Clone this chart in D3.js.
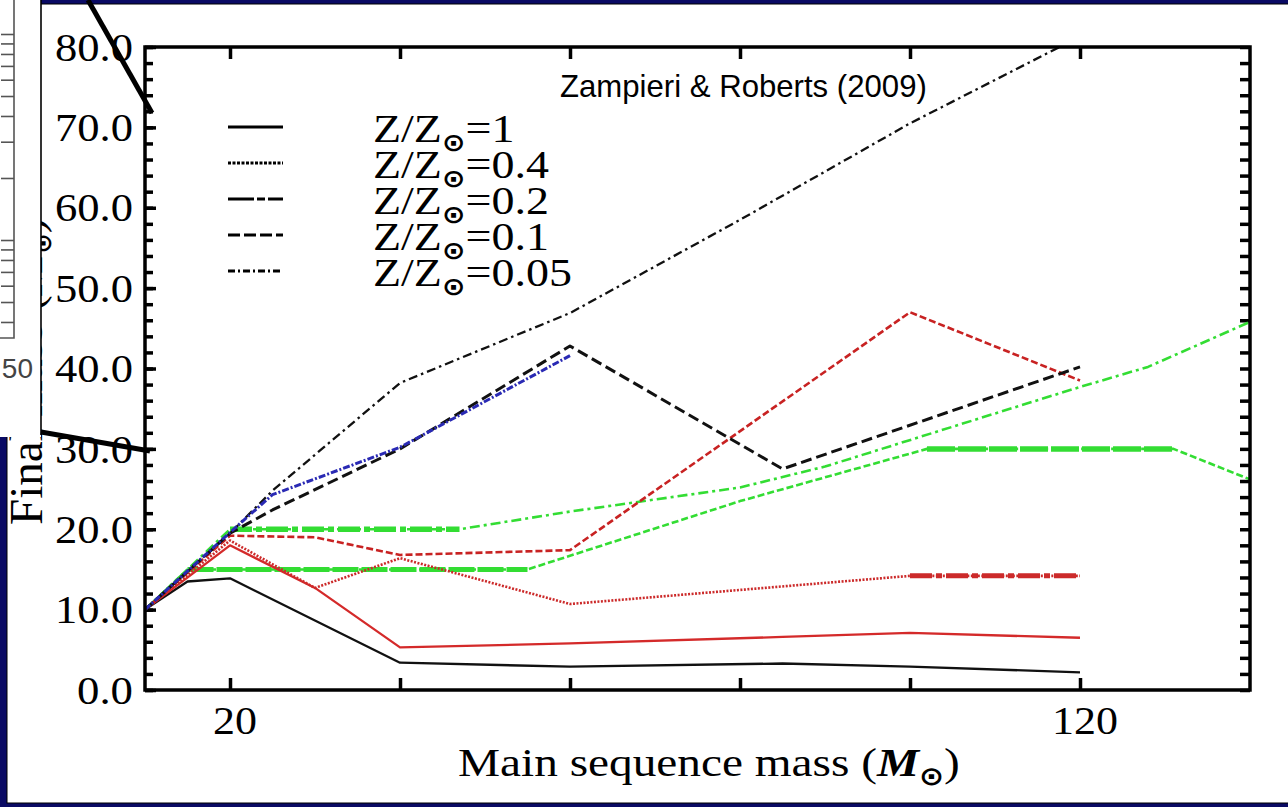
<!DOCTYPE html>
<meta charset="utf-8">
<style>
body { margin: 0; background: #0a0a64; }
</style>
<svg width="1288" height="807"></svg>
<script src="https://d3js.org/d3.v7.min.js"></script>
<script>

// ---- data (mass in Msun, final mass in Msun) ----
var massBlackSolid = [10, 15, 20, 40, 60, 85, 100, 120],
    finalBlackSolid = [10, 13.5, 13.9, 3.4, 2.9, 3.3, 2.9, 2.2];
var massBlackDash = [10, 20, 25, 40, 60, 85, 120],
    finalBlackDash = [10, 19.5, 22.4, 30.0, 42.8, 27.5, 40.2];
var massBlackDashDot = [10, 20, 25, 40, 60, 80, 100, 120],
    finalBlackDashDot = [10, 19.5, 24.8, 38.2, 46.9, 58.5, 70.5, 81.3];
var massBlue = [10, 20, 25, 40, 60],
    finalBlue = [10, 19.6, 24.3, 30.2, 41.6];
var massRedSolid = [10, 20, 30, 40, 60, 85, 100, 120],
    finalRedSolid = [10, 18.0, 12.7, 5.3, 5.8, 6.6, 7.1, 6.5];
var massRedDot = [10, 20, 30, 40, 60, 100, 120],
    finalRedDot = [10, 18.6, 12.7, 16.4, 10.7, 14.2, 14.2];
var massRedDash = [10, 20, 30, 40, 60, 100, 120],
    finalRedDash = [10, 19.2, 19.0, 16.8, 17.4, 47.0, 38.5];
var massGreenDash = [10, 15, 55, 80, 102, 131, 140],
    finalGreenDash = [10, 15, 15, 23.5, 30, 30, 26.2];
var massGreenDashDot = [10, 20, 47, 60, 80, 90, 120, 128, 140],
    finalGreenDashDot = [10, 20, 20, 22.2, 25.2, 27.8, 37.7, 40.2, 45.8];

var yMajor = d3.range(0, 81, 10),
    yMinor = d3.range(0, 81, 2),
    xTicks = d3.range(20, 121, 20),
    xLabels = [20, 120];

var legendLabels = ["1", "0.4", "0.2", "0.1", "0.05"],
    legendDash = [null, "3,1.5", "26,3,8,3", "12,4", "7,3,2,3"];

var insetTicks = [4, 5, 6, 7, 8, 9, 10, 20, 30, 40, 50, 60, 70, 80, 90, 100];

var svg = d3.select("svg");
var serif = "Liberation Serif, Times New Roman, serif";

// stretch a text horizontally to a width, keeping its left edge
function fitWidth(sel, w) {
  sel.each(function() {
    var b = this.getBBox();
    var s = w / b.width;
    d3.select(this).attr("transform",
      "translate(" + b.x + ",0) scale(" + s + ",1) translate(" + (-b.x) + ",0)");
  });
}

function sunTspan(t, size, dy) {
  t.append("tspan").attr("font-family", "DejaVu Sans").attr("font-size", size)
   .attr("font-weight", "bold").attr("dy", dy).text("\u2299");
}

svg.append("rect")
   .attr("width", 1288).attr("height", 807)
   .attr("fill", "#0a0a64");
svg.append("rect")
   .attr("x", 7).attr("y", 4).attr("width", 1282).attr("height", 799)
   .attr("fill", "#fff").attr("stroke", "#000").attr("stroke-width", 1);

var x = d3.scaleLinear().domain([10, 140]).range([145, 1250]),
    y = d3.scaleLinear().domain([0, 80]).range([690, 47]);

function tickStyle(g) {
  g.select(".domain").remove();
  g.selectAll("text").remove();
  g.selectAll("line").attr("stroke", "#000").attr("stroke-width", 3.5);
}

svg.append("g").attr("transform", "translate(145,0)")
   .call(d3.axisLeft(y).tickValues(yMinor).tickSize(-8)).call(tickStyle);
svg.append("g").attr("transform", "translate(145,0)")
   .call(d3.axisLeft(y).tickValues(yMajor).tickSize(-11)).call(tickStyle);
svg.append("g").attr("transform", "translate(1250,0)")
   .call(d3.axisRight(y).tickValues(yMinor).tickSize(-10)).call(tickStyle);
svg.append("g").attr("transform", "translate(0,690)")
   .call(d3.axisBottom(x).tickValues(xTicks).tickSize(-12)).call(tickStyle);
svg.append("g").attr("transform", "translate(0,47)")
   .call(d3.axisTop(x).tickValues(xTicks).tickSize(-12)).call(tickStyle);

// data lines
svg.append("clipPath").attr("id", "plotclip")
   .append("rect").attr("x", 145).attr("y", 47).attr("width", 1105).attr("height", 643);

var plot = svg.append("g").attr("clip-path", "url(#plotclip)");
var line = d3.line().x(function(d) { return x(d[0]); }).y(function(d) { return y(d[1]); });

function drawSeries(ms, vs, color, width, dash, bold) {
  var pts = d3.zip(ms, vs);
  if (width > 0) {
    plot.append("path").attr("d", line(pts))
        .attr("fill", "none").attr("stroke", color)
        .attr("stroke-width", width)
        .attr("stroke-dasharray", dash)
        .attr("stroke-linejoin", "round");
  }
  if (bold) {
    var sub = pts.filter(function(p) { return p[0] >= bold[0] && p[0] <= bold[1]; });
    plot.append("path").attr("d", line(sub))
        .attr("fill", "none").attr("stroke", color)
        .attr("stroke-width", bold[2])
        .attr("stroke-dasharray", bold[3]);
  }
}

drawSeries(massGreenDash, finalGreenDash, "#33dd33", 2.6, "7,3", [15, 55, 5, "26,3"]);
drawSeries(massGreenDash, finalGreenDash, "#33dd33", 0, null, [102, 131, 5.5, "28,3"]);
drawSeries(massGreenDashDot, finalGreenDashDot, "#33dd33", 2.6, "10,4,3,4", [20, 47, 5.5, "22,4,6,4"]);
drawSeries(massBlackSolid, finalBlackSolid, "#111", 2.3, null);
drawSeries(massRedSolid, finalRedSolid, "#d42a2a", 2.3, null);
drawSeries(massRedDot, finalRedDot, "#cc2a2a", 2.6, "2,1.5", [100, 120, 5, "22,4,6,4"]);
drawSeries(massRedDash, finalRedDash, "#c82222", 2.6, "7,3");
drawSeries(massBlackDash, finalBlackDash, "#111", 3, "11,5");
drawSeries(massBlackDashDot, finalBlackDashDot, "#111", 2.3, "9,4,2.5,4");
drawSeries(massBlue, finalBlue, "#2a2ab4", 3, "7,2,2,2");

// frame
svg.append("rect")
   .attr("x", 145).attr("y", 47).attr("width", 1105).attr("height", 643)
   .attr("fill", "none").attr("stroke", "#000").attr("stroke-width", 3.5);

// tick labels
svg.selectAll(".ylab").data(yMajor).join("text")
   .attr("class", "ylab")
   .attr("x", 133).attr("y", function(d) { return y(d); })
   .attr("dy", "0.35em").attr("text-anchor", "end")
   .attr("font-family", serif).attr("font-size", 39)
   .attr("textLength", function(d) { return d < 10 ? 56 : 78; })
   .attr("lengthAdjust", "spacingAndGlyphs")
   .text(function(d) { return d.toFixed(1); });

svg.selectAll(".xlab").data(xLabels).join("text")
   .attr("class", "xlab")
   .attr("x", function(d) { return x(d) + 5; }).attr("y", 734)
   .attr("text-anchor", "middle")
   .attr("font-family", serif).attr("font-size", 40)
   .attr("textLength", function(d) { return String(d).length * 22; })
   .attr("lengthAdjust", "spacingAndGlyphs")
   .text(function(d) { return d; });

// x title
var xt = svg.append("text").attr("x", 458).attr("y", 776)
   .attr("font-family", serif).attr("font-size", 41);
xt.append("tspan").text("Main sequence mass (");
xt.append("tspan").attr("font-weight", "bold").attr("font-style", "italic").text("M");
sunTspan(xt, 26, 9);
xt.append("tspan").attr("dy", -9).text(")");
fitWidth(xt, 502);

// y title (mostly covered by the inset)
var yt = svg.append("text").attr("transform", "translate(42,525) rotate(-90)")
   .attr("font-family", serif).attr("font-size", 47);
yt.append("tspan").text("Final mass (");
yt.append("tspan").attr("font-weight", "bold").attr("font-style", "italic").text("M");
sunTspan(yt, 24, 9);
yt.append("tspan").attr("dy", -9).text(")");

// reference
var zr = svg.append("text").attr("x", 560).attr("y", 97)
   .attr("font-family", "Liberation Sans, Arial, sans-serif").attr("font-size", 32)
   .text("Zampieri & Roberts (2009)");
fitWidth(zr, 367);

// legend
var leg = svg.append("g");
leg.selectAll("line").data(legendLabels).join("line")
   .attr("x1", 228).attr("x2", 283)
   .attr("y1", function(d, i) { return 127 + 36 * i; })
   .attr("y2", function(d, i) { return 127 + 36 * i; })
   .attr("stroke", "#000").attr("stroke-width", 3.2)
   .attr("stroke-dasharray", function(d, i) { return legendDash[i]; });

var legText = leg.selectAll("text").data(legendLabels).join("text")
   .attr("x", 373).attr("y", function(d, i) { return 142 + 36 * i; })
   .attr("font-family", serif).attr("font-size", 41);
legText.append("tspan").text("Z/Z");
sunTspan(legText, 25, 9);
legText.append("tspan").attr("dy", -9).text(function(d) { return "=" + d; });
var longest = legText.filter(function(d) { return d === "0.05"; }).node().getBBox().width;
legText.each(function() {
  fitWidth(d3.select(this), this.getBBox().width * 199 / longest);
});

// inset (cropped zoom panel in the upper left corner)
var inset = svg.append("g");
inset.append("rect").attr("x", 0).attr("y", 0).attr("width", 41).attr("height", 437)
     .attr("fill", "#fff");
var insetY = d3.scaleLog().domain([10, 100]).range([240, 34]);
inset.append("g").attr("transform", "translate(14,0)")
     .call(d3.axisLeft(insetY).tickValues(insetTicks).tickSize(13))
     .call(function(g) {
       g.select(".domain").remove();
       g.selectAll("text").remove();
       g.selectAll("line").attr("stroke", "#555").attr("stroke-width", 1.6);
     });
inset.append("path").attr("d", "M14,0V338H0")
     .attr("fill", "none").attr("stroke", "#555").attr("stroke-width", 1.6);
inset.append("text").attr("x", 33).attr("y", 378).attr("text-anchor", "end")
     .attr("font-family", "Liberation Sans, Arial, sans-serif").attr("font-size", 28)
     .attr("fill", "#444").text("50");
inset.append("line").attr("x1", 41).attr("x2", 41).attr("y1", 0).attr("y2", 435)
     .attr("stroke", "#000").attr("stroke-width", 1.6);

// zoom connector lines
var zoomLinks = [[88, 0, 152, 113], [41, 432, 150, 451]];
svg.selectAll(".zl").data(zoomLinks).join("line")
   .attr("class", "zl")
   .attr("x1", function(d) { return d[0]; }).attr("y1", function(d) { return d[1]; })
   .attr("x2", function(d) { return d[2]; }).attr("y2", function(d) { return d[3]; })
   .attr("stroke", "#000").attr("stroke-width", 5);

</script>
